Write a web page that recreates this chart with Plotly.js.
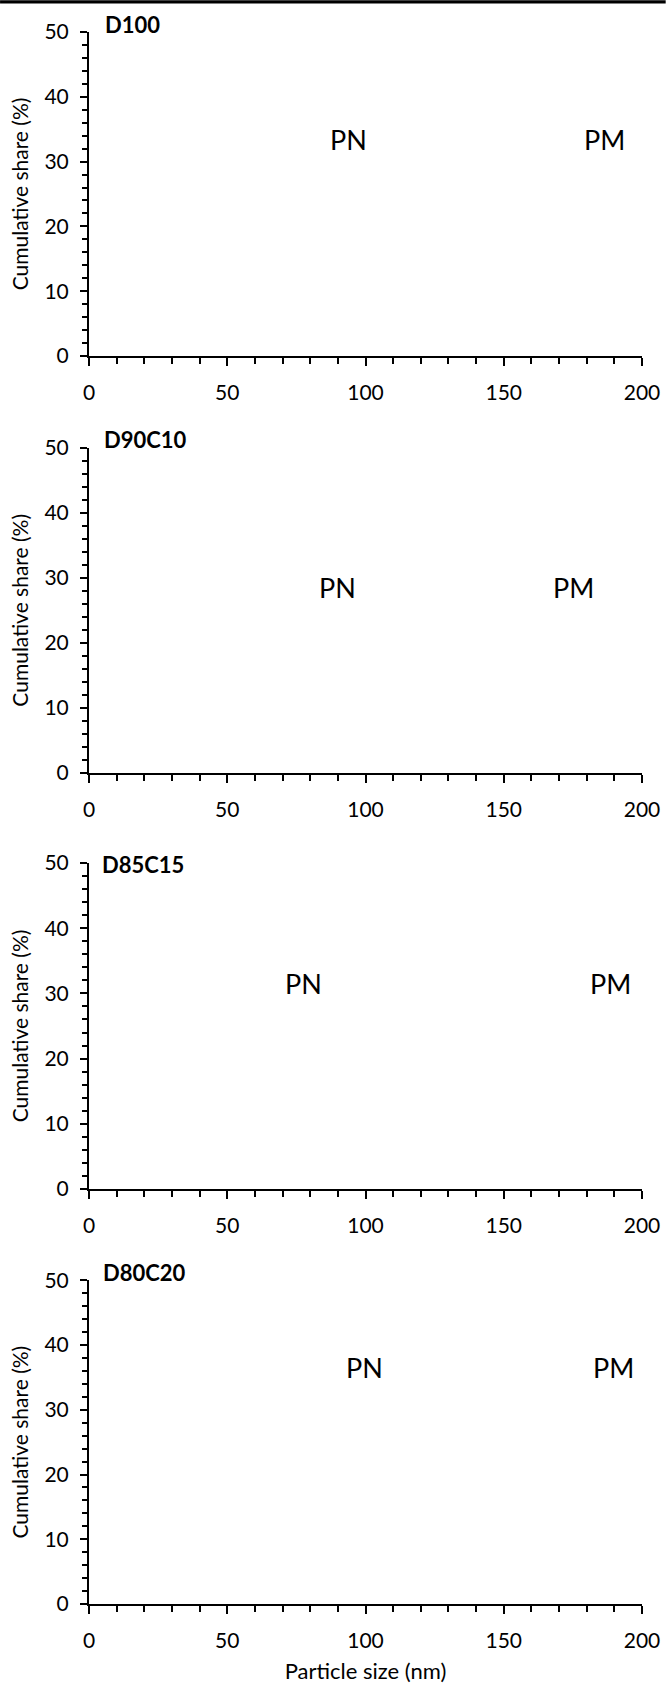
<!DOCTYPE html>
<html>
<head>
<meta charset="utf-8">
<script src="https://cdn.plot.ly/plotly-3.0.1.min.js"></script>
<style>html,body{margin:0;padding:0;background:#fff;}#chart{width:666px;height:1686px;}</style>
</head>
<body>
<div id="chart"></div>
<script>
// Panel names (mix compositions)
const panels = ["D100", "D90C10", "D85C15", "D80C20"];
// Label texts and their positions in data units (particle size nm, cumulative share %)
const labelPN = "PN";
const labelPM = "PM";
const pnX = [93.7, 90, 77.5, 99.7];
const pnY = [33.4, 28.5, 31.5, 36.5];
const pmX = [186.6, 175.2, 188.5, 189.6];
const pmY = [33.4, 28.5, 31.5, 36.5];
// Axis ranges and tick labels
const xRange = [0, 200];
const yRange = [0, 50];
const xTicks = [0, 50, 100, 150, 200];
const yTicks = [0, 10, 20, 30, 40, 50];
const xTitle = "Particle size (nm)";
const yTitle = "Cumulative share (%)";

const W = 666, H = 1686;
const mL = 89, mR = 23.7, mT = 31.7, mB = 82.3;
const plotH = H - mT - mB;
const plotW = W - mL - mR;
const panelPx = [[31.7, 355.7], [447.7, 772.3], [862.7, 1188.7], [1280, 1603.7]];
const toPaperY = p => (H - mB - p) / plotH;
const toPaperX = p => (p - mL) / plotW;

const FONT = "Lato, 'Liberation Sans', sans-serif";
const TICK = 21;
const layout = {
  width: W, height: H,
  margin: {l: mL, r: mR, t: mT, b: mB, pad: 0},
  paper_bgcolor: "#ffffff", plot_bgcolor: "#ffffff",
  showlegend: false,
  font: {family: FONT, size: TICK, color: "#000"},
  annotations: [],
  shapes: [{type: "rect", xref: "paper", yref: "paper",
            x0: toPaperX(0), x1: toPaperX(W), y0: toPaperY(3.3), y1: toPaperY(0),
            fillcolor: "#000", line: {width: 0}}]
};
const traces = [];
// panel label anchor in axis-domain fractions
const panelLabelX = [0.027, 0.025, 0.021, 0.023];
const panelLabelY = [1.024, 1.026, 0.995, 1.024];

panels.forEach((name, i) => {
  const n = i + 1;
  const xa = "xaxis" + (n === 1 ? "" : n);
  const ya = "yaxis" + (n === 1 ? "" : n);
  const xr = "x" + (n === 1 ? "" : n);
  const yr = "y" + (n === 1 ? "" : n);
  const [top, bot] = panelPx[i];
  layout[ya] = {
    domain: [toPaperY(bot), toPaperY(top)],
    anchor: xr, range: yRange, fixedrange: true,
    showline: true, linecolor: "#000", linewidth: 2, mirror: false,
    showgrid: false, zeroline: false,
    tickmode: "array", tickvals: yTicks, ticktext: yTicks.map(String),
    ticks: "outside", ticklen: 7, tickwidth: 2, tickcolor: "#000",
    ticklabelstandoff: 7,
    minor: {dtick: 2, ticks: "outside", ticklen: 5, tickwidth: 2, tickcolor: "#000", showgrid: false},
    tickfont: {family: FONT, size: TICK, color: "#000"},
    title: {text: yTitle, font: {family: FONT, size: 21, color: "#000"}, standoff: 10}
  };
  layout[xa] = {
    domain: [0, 1], anchor: yr, range: xRange, fixedrange: true,
    showline: true, linecolor: "#000", linewidth: 2,
    showgrid: false, zeroline: false,
    tickmode: "array", tickvals: xTicks, ticktext: xTicks.map(String),
    ticks: "outside", ticklen: 8, tickwidth: 2, tickcolor: "#000",
    ticklabelstandoff: 9,
    minor: {dtick: 10, ticks: "outside", ticklen: 6, tickwidth: 2, tickcolor: "#000", showgrid: false},
    tickfont: {family: FONT, size: TICK, color: "#000"},
    title: i === panels.length - 1 ? {text: xTitle, font: {family: FONT, size: 22, color: "#000"}, standoff: 12} : {text: ""}
  };
  traces.push({type: "scatter", mode: "lines", x: [], y: [], xaxis: xr, yaxis: yr, hoverinfo: "skip"});
  layout.annotations.push(
    {xref: xr + " domain", yref: yr + " domain", x: panelLabelX[i], y: panelLabelY[i], text: "<b>" + name + "</b>",
     showarrow: false, xanchor: "left", yanchor: "middle", borderpad: 0,
     font: {family: FONT, size: 22, color: "#000"}},
    {xref: xr, yref: yr, x: pnX[i], y: pnY[i], text: labelPN, showarrow: false,
     xanchor: "center", yanchor: "middle", font: {family: FONT, size: 27, color: "#000"}},
    {xref: xr, yref: yr, x: pmX[i], y: pmY[i], text: labelPM, showarrow: false,
     xanchor: "center", yanchor: "middle", font: {family: FONT, size: 27, color: "#000"}}
  );
});

Plotly.newPlot("chart", traces, layout, {staticPlot: true, displayModeBar: false});
</script>
</body>
</html>
